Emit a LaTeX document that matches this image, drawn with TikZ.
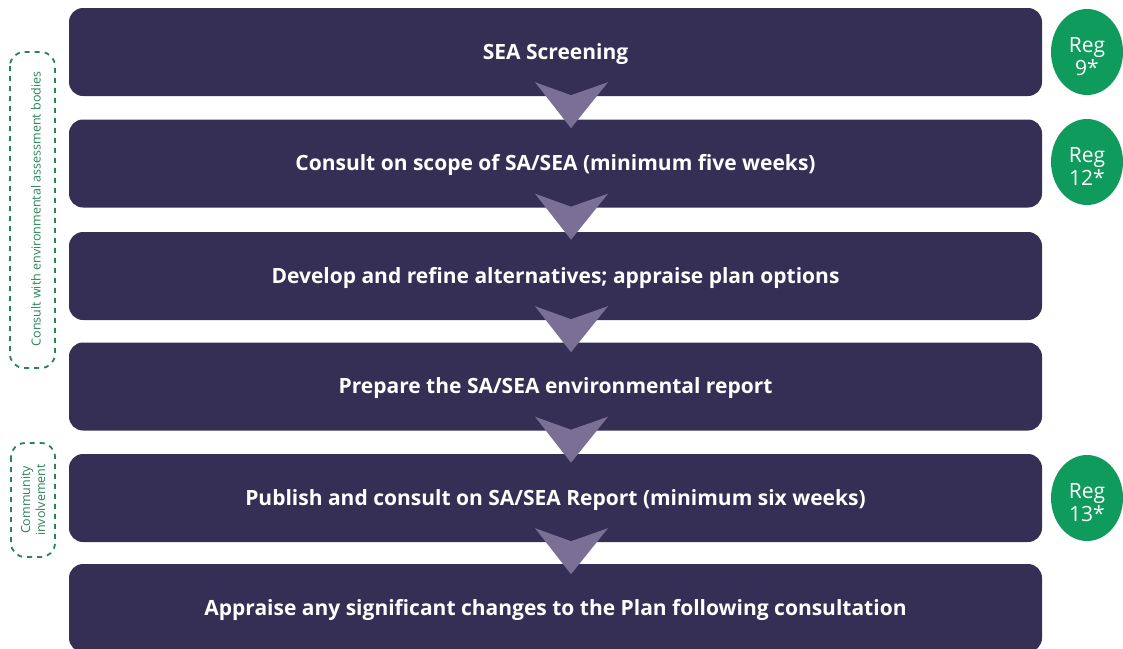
\documentclass[tikz,border=0pt]{standalone}
\usepackage{fontspec}
\setmainfont{Open Sans}
\usetikzlibrary{calc,shapes.geometric}
\definecolor{boxfill}{HTML}{352F55}
\definecolor{chevfill}{HTML}{7A7096}
\definecolor{regfill}{HTML}{0F9B5C}
\definecolor{dashgreen}{HTML}{2A8457}
\tikzset{
  stepbox/.style={fill=boxfill, rounded corners=14pt, minimum width=973pt, minimum height=88pt,
    inner sep=0pt, text=white, text height=14pt, text depth=0pt,
    font=\fontsize{21}{24}\selectfont\bfseries},
  chev/.style={fill=chevfill},
  regbadge/.style={ellipse, fill=regfill, minimum width=72pt, minimum height=86pt, inner sep=0pt},
  regtext/.style={text=white, align=center, inner sep=0pt, font=\fontsize{21}{23}\selectfont},
  sidebox/.style={draw=dashgreen, line width=1.8pt, dash pattern=on 5pt off 5pt, rounded corners=14pt,
    inner sep=0pt},
  sidetext/.style={text=dashgreen, rotate=90, align=center, font=\fontsize{12.5}{15}\selectfont}
}
\begin{document}
\begin{tikzpicture}[x=1pt,y=-1pt]
\useasboundingbox (0,0) rectangle (1123,648);
\node[stepbox] (b1) at (555.5,52) {SEA Screening};
\node[stepbox] (b2) at (555.5,163.5) {Consult on scope of SA/SEA (minimum five weeks)};
\node[stepbox] (b3) at (555.5,276) {Develop and refine alternatives; appraise plan options};
\node[stepbox] (b4) at (555.5,386.5) {Prepare the SA/SEA environmental report};
\node[stepbox] (b5) at (555.5,498) {Publish and consult on SA/SEA Report (minimum six weeks)};
\node[stepbox] (b6) at (555.5,608) {Appraise any significant changes to the Plan following consultation};
\foreach \b in {b1,b2,b3,b4,b5}{
  \fill[chev] ($(\b.south)+(-20.5,-14)$) -- ($(\b.south)+(15.5,-1)$) -- ($(\b.south)+(52.5,-14)$)
     -- ($(\b.south)+(15.5,32)$) -- cycle;
}
\node[regbadge] (r9) at (1087,52) {};
\node[regtext] (r9t) at ([yshift=-5pt]r9.center) {Reg\\9*};
\node[regbadge] (r12) at (1087,162) {};
\node[regtext] (r12t) at ([yshift=-5pt]r12.center) {Reg\\12*};
\node[regbadge] (r13) at (1087,498) {};
\node[regtext] (r13t) at ([yshift=-5pt]r13.center) {Reg\\13*};
\draw[sidebox] (10,52) rectangle (55,368);
\node[sidetext] (t1) at (36,209) {Consult with environmental assessment bodies};
\draw[sidebox] (11,443) rectangle (55,557);
\node[sidetext] (t2) at (33,500) {Community\\involvement};
\end{tikzpicture}
\end{document}
